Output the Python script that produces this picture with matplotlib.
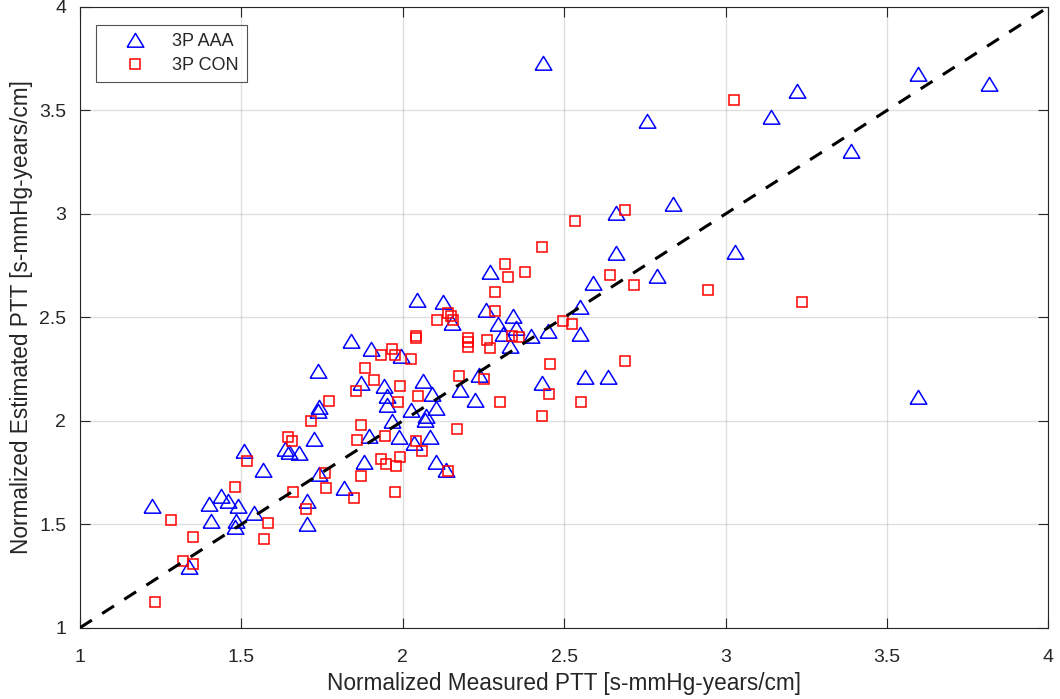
import matplotlib.pyplot as plt

plt.rcParams['font.family'] = ['Liberation Sans', 'DejaVu Sans']

# 3P AAA group: normalized measured vs estimated PTT
aaa_measured = [1.223, 1.507, 1.567, 1.436, 1.458, 1.399, 1.489, 1.407, 1.484, 1.479,
                1.540, 1.636, 1.646, 1.677, 1.724, 1.739, 1.703, 1.703, 1.337, 1.838,
                1.900, 1.993, 1.738, 1.872, 1.941, 1.950, 1.951, 2.063, 2.092, 2.104,
                2.024, 2.073, 2.068, 2.176, 2.225, 2.236, 1.741, 1.738, 1.968, 1.896,
                1.989, 2.084, 2.034, 1.879, 2.102, 2.135, 1.817, 2.269, 2.045, 2.125,
                2.151, 2.259, 2.341, 2.295, 2.350, 2.309, 2.398, 2.333, 2.450, 2.548,
                2.548, 2.589, 2.661, 2.563, 2.636, 2.432, 2.659, 2.837, 3.028, 2.787,
                2.434, 2.758, 3.596, 3.816, 3.220, 3.140, 3.390, 3.596]
aaa_estimated = [1.589, 1.856, 1.760, 1.637, 1.614, 1.597, 1.589, 1.516, 1.516, 1.489,
                 1.555, 1.863, 1.849, 1.844, 1.911, 1.744, 1.610, 1.500, 1.292, 2.384,
                 2.347, 2.314, 2.239, 2.185, 2.169, 2.121, 2.077, 2.190, 2.131, 2.061,
                 2.050, 2.021, 2.005, 2.147, 2.102, 2.223, 2.066, 2.045, 1.997, 1.927,
                 1.921, 1.921, 1.895, 1.803, 1.803, 1.760, 1.674, 2.717, 2.585, 2.572,
                 2.473, 2.534, 2.508, 2.469, 2.448, 2.421, 2.411, 2.363, 2.432, 2.548,
                 2.421, 2.666, 2.811, 2.214, 2.214, 2.182, 3.005, 3.050, 2.817, 2.701,
                 3.731, 3.451, 3.675, 3.630, 3.595, 3.470, 3.305, 2.117]

# 3P CON group
con_measured = [1.283, 1.350, 1.318, 1.350, 1.233, 1.481, 1.518, 1.582, 1.569, 1.644,
                1.656, 1.716, 1.659, 1.699, 1.760, 1.761, 2.042, 2.042, 2.202, 2.202,
                2.202, 2.261, 2.271, 1.965, 1.932, 1.977, 2.025, 1.882, 1.911, 1.854,
                1.991, 1.985, 2.047, 1.772, 2.174, 2.252, 1.869, 1.858, 1.946, 2.169,
                2.042, 2.058, 1.931, 1.947, 1.991, 1.980, 2.140, 1.869, 1.975, 1.849,
                2.431, 2.316, 2.325, 2.378, 2.286, 2.286, 2.106, 2.140, 2.148, 2.156,
                2.338, 2.359, 2.496, 2.524, 2.641, 2.455, 2.452, 2.300, 2.553, 2.687,
                2.431, 2.533, 2.688, 2.717, 2.945, 3.027, 3.236]
con_estimated = [1.521, 1.437, 1.323, 1.307, 1.126, 1.679, 1.808, 1.505, 1.429, 1.924,
                 1.900, 1.997, 1.658, 1.573, 1.747, 1.675, 2.408, 2.398, 2.401, 2.379,
                 2.357, 2.389, 2.352, 2.347, 2.319, 2.319, 2.298, 2.255, 2.195, 2.142,
                 2.166, 2.093, 2.118, 2.097, 2.218, 2.202, 1.981, 1.908, 1.927, 1.960,
                 1.900, 1.852, 1.815, 1.791, 1.827, 1.782, 1.755, 1.731, 1.655, 1.626,
                 2.840, 2.758, 2.695, 2.720, 2.621, 2.529, 2.485, 2.521, 2.508, 2.485,
                 2.408, 2.403, 2.484, 2.468, 2.703, 2.276, 2.129, 2.089, 2.089, 2.287,
                 2.021, 2.966, 3.021, 2.658, 2.634, 3.550, 2.576]

axis_range = [1, 4]
ticks = [1, 1.5, 2, 2.5, 3, 3.5, 4]
tick_labels = ['1', '1.5', '2', '2.5', '3', '3.5', '4']

text_color = '#262626'
tri = [(-1, -0.8), (1, -0.8), (0, 0.85), (-1, -0.8)]

fig = plt.figure(figsize=(10.6, 6.99), dpi=100)
ax = fig.add_axes([0.0755, 0.102, 0.9135, 0.888])

ax.plot(aaa_measured, aaa_estimated, linestyle='none', marker=tri, markersize=12,
        markerfacecolor='none', markeredgecolor='blue', markeredgewidth=1.1,
        label='3P AAA', zorder=3)
ax.plot(con_measured, con_estimated, linestyle='none', marker='s', markersize=7.2,
        markerfacecolor='none', markeredgecolor='red', markeredgewidth=1.1,
        label='3P CON', zorder=3)

# line of identity
ax.plot(axis_range, axis_range, color='black', linewidth=2.2, dashes=(4.6, 4.0),
        zorder=4)

ax.set_xlim(axis_range)
ax.set_ylim(axis_range)
ax.set_xticks(ticks)
ax.set_xticklabels(tick_labels)
ax.set_yticks(ticks)
ax.set_yticklabels(tick_labels)
ax.grid(True, color='#262626', alpha=0.15, linewidth=1)
ax.set_axisbelow(True)
ax.tick_params(direction='in', length=7, width=0.8, top=True, right=True,
               labelsize=14, colors=text_color)
ax.tick_params(axis='x', pad=15)
ax.tick_params(axis='y', pad=10)
for s in ax.spines.values():
    s.set_color(text_color)
    s.set_linewidth(0.8)

ax.set_xlabel('Normalized Measured PTT [s-mmHg-years/cm]', fontsize=16.3,
              color=text_color, labelpad=5)
ax.set_ylabel('Normalized Estimated PTT [s-mmHg-years/cm]', fontsize=16.3,
              color=text_color, labelpad=4)

leg = ax.legend(loc='upper left', bbox_to_anchor=(0.017, 0.971), fontsize=13,
                frameon=True, fancybox=False, edgecolor=text_color,
                borderpad=0.45, handletextpad=0.35, handlelength=3.4,
                labelspacing=0.4, borderaxespad=0)
leg.get_frame().set_linewidth(0.8)
for t in leg.get_texts():
    t.set_color(text_color)

fig.savefig('out.png', dpi=100)
